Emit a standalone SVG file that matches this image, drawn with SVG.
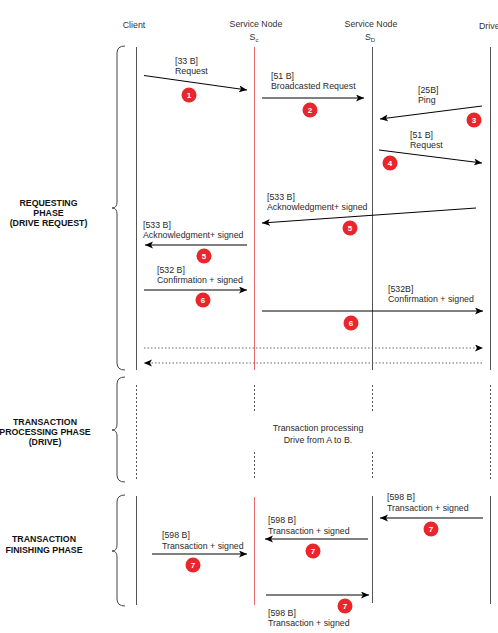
<svg xmlns="http://www.w3.org/2000/svg" width="498" height="633" viewBox="0 0 498 633">
<defs>
<marker id="ah" markerUnits="userSpaceOnUse" markerWidth="10" markerHeight="8" refX="8" refY="3.5" orient="auto">
<path d="M0,0 L8,3.5 L0,7 L2,3.5 z" fill="#000"/>
</marker>
</defs>
<style>
text{font-family:"Liberation Sans",Arial,sans-serif;font-size:8.8px;fill:#2a2a2a}
.hd{fill:#333}
.ph{font-weight:bold;text-anchor:middle;fill:#111}
.life{stroke:#555;stroke-width:1;fill:none}
.red{stroke:#e66a6e;stroke-width:1;fill:none}
.dash{stroke:#555;stroke-width:1;stroke-dasharray:2,2;fill:none}
.msg{stroke:#000;stroke-width:1;fill:none;marker-end:url(#ah)}
.dot{stroke:#666;stroke-width:1;stroke-dasharray:1.5,2;fill:none;marker-end:url(#ah)}
.brace{stroke:#444;stroke-width:1;fill:none}
.bc{fill:#e8262b}
.bn{font-weight:bold;fill:#fff;text-anchor:middle;font-size:8px}
.mid{text-anchor:middle}
</style>
<rect width="498" height="633" fill="#fff"/>

<g id="headers">
<text class="hd mid" x="134" y="28">Client</text>
<text class="hd mid" x="256" y="27">Service Node</text>
<text class="hd mid" x="254" y="40">S<tspan font-size="6" dy="2">c</tspan></text>
<text class="hd mid" x="371" y="27">Service Node</text>
<text class="hd mid" x="370" y="40">S<tspan font-size="6" dy="2">D</tspan></text>
<text class="hd" x="479" y="29">Drive</text>
</g>

<g id="lifelines">
<line class="life" x1="136.5" y1="47" x2="136.5" y2="370"/>
<line class="red" x1="254.5" y1="47" x2="254.5" y2="370"/>
<line class="life" x1="372.5" y1="47" x2="372.5" y2="370"/>
<line class="life" x1="490.5" y1="47" x2="490.5" y2="370"/>

<line class="dash" x1="136.5" y1="385" x2="136.5" y2="480"/>
<line class="dash" x1="254.5" y1="385" x2="254.5" y2="413"/>
<line class="dash" x1="254.5" y1="452" x2="254.5" y2="480"/>
<line class="dash" x1="372.5" y1="385" x2="372.5" y2="413"/>
<line class="dash" x1="372.5" y1="452" x2="372.5" y2="480"/>
<line class="dash" x1="490.5" y1="385" x2="490.5" y2="480"/>

<line class="life" x1="136.5" y1="496" x2="136.5" y2="605"/>
<line class="red" x1="254.5" y1="497" x2="254.5" y2="605"/>
<line class="life" x1="372.5" y1="496" x2="372.5" y2="603"/>
<line class="life" x1="490.5" y1="496" x2="490.5" y2="604"/>
</g>

<g id="phases">
<path class="brace" d="M125,46 Q117,46 117,53 L117,202 Q117,208 112,208 Q117,208 117,214 L117,363 Q117,370 125,370"/>
<text class="ph" x="48.5" y="206">REQUESTING</text>
<text class="ph" x="48.5" y="216">PHASE</text>
<text class="ph" x="48.5" y="226">(DRIVE REQUEST)</text>

<path class="brace" d="M125,377 Q117,377 117,384 L117,424 Q117,430 112,430 Q117,430 117,436 L117,475 Q117,482 125,482"/>
<text class="ph" x="45" y="425">TRANSACTION</text>
<text class="ph" x="45" y="435">PROCESSING PHASE</text>
<text class="ph" x="45" y="445">(DRIVE)</text>

<path class="brace" d="M125,495 Q117,495 117,502 L117,545 Q117,551 112,551 Q117,551 117,557 L117,599 Q117,606 125,606"/>
<text class="ph" x="44" y="542">TRANSACTION</text>
<text class="ph" x="44" y="553">FINISHING PHASE</text>
</g>

<g id="connectors">
<line class="msg" x1="144" y1="75.5" x2="247" y2="90"/>
<line class="msg" x1="262" y1="98" x2="364" y2="98"/>
<line class="msg" x1="482" y1="106" x2="380" y2="119"/>
<line class="msg" x1="379" y1="150" x2="482" y2="163"/>
<line class="msg" x1="476" y1="208" x2="262" y2="223"/>
<line class="msg" x1="247" y1="245" x2="145" y2="245"/>
<line class="msg" x1="144" y1="290" x2="247" y2="290"/>
<line class="msg" x1="262" y1="311" x2="483" y2="311"/>
<line class="dot" x1="144" y1="348" x2="483" y2="348"/>
<line class="dot" x1="482" y1="363" x2="144" y2="363"/>
<line class="msg" x1="483" y1="518" x2="380" y2="518"/>
<line class="msg" x1="368" y1="539" x2="265" y2="539"/>
<line class="msg" x1="152" y1="554" x2="247" y2="554"/>
<line class="msg" x1="266" y1="595" x2="369" y2="595"/>
</g>

<g id="labels">
<text x="175" y="64">[33 B]</text>
<text x="175" y="74">Request</text>
<text x="271" y="79">[51 B]</text>
<text x="271" y="89">Broadcasted Request</text>
<text x="418" y="93">[25B]</text>
<text x="418" y="103">Ping</text>
<text x="410" y="138">[51 B]</text>
<text x="410" y="148">Request</text>
<text x="267" y="200">[533 B]</text>
<text x="267" y="210">Acknowledgment+ signed</text>
<text x="143" y="228">[533 B]</text>
<text x="143" y="238">Acknowledgment+ signed</text>
<text x="157" y="273">[532 B]</text>
<text x="157" y="283">Confirmation + signed</text>
<text x="388" y="292">[532B]</text>
<text x="388" y="302">Confirmation + signed</text>
<text class="mid" x="318" y="431">Transaction processing</text>
<text class="mid" x="318" y="443">Drive from A to B.</text>
<text x="387" y="500">[598 B]</text>
<text x="387" y="511">Transaction + signed</text>
<text x="268" y="523">[598 B]</text>
<text x="268" y="534">Transaction + signed</text>
<text x="162" y="538">[598 B]</text>
<text x="162" y="549">Transaction + signed</text>
<text x="268" y="616">[598 B]</text>
<text x="268" y="626">Transaction + signed</text>
</g>

<g id="badges">
<circle class="bc" cx="189" cy="95" r="7.5"/><text class="bn" x="189" y="98">1</text>
<circle class="bc" cx="310" cy="110" r="7.5"/><text class="bn" x="310" y="113">2</text>
<circle class="bc" cx="474" cy="120" r="7.5"/><text class="bn" x="474" y="123">3</text>
<circle class="bc" cx="390" cy="163" r="7.5"/><text class="bn" x="390" y="166">4</text>
<circle class="bc" cx="350" cy="228" r="7.5"/><text class="bn" x="350" y="231">5</text>
<circle class="bc" cx="204" cy="256" r="7.5"/><text class="bn" x="204" y="259">5</text>
<circle class="bc" cx="203" cy="300" r="7.5"/><text class="bn" x="203" y="303">6</text>
<circle class="bc" cx="351" cy="323" r="7.5"/><text class="bn" x="351" y="326">6</text>
<circle class="bc" cx="431" cy="529" r="7.5"/><text class="bn" x="431" y="532">7</text>
<circle class="bc" cx="313" cy="551" r="7.5"/><text class="bn" x="313" y="554">7</text>
<circle class="bc" cx="193" cy="565" r="7.5"/><text class="bn" x="193" y="568">7</text>
<circle class="bc" cx="345" cy="606" r="7.5"/><text class="bn" x="345" y="609">7</text>
</g>
</svg>
